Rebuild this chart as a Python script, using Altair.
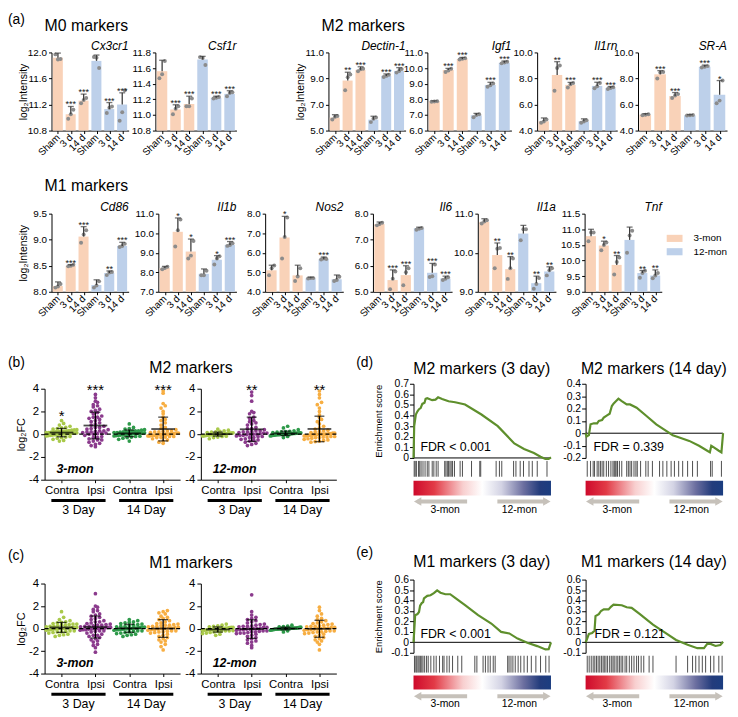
import math
import altair as alt
import pandas as pd

FONT = "Liberation Sans"
MARGIN = 8
W, H = 730, 709


def X(v):
    return v - MARGIN


def Y(v):
    return v - MARGIN


# ---------------------------------------------------------------- (a) data
CONDS = ["Sham", "3 d", "14 d", "Sham", "3 d", "14 d"]
AGES = ["3-mon", "3-mon", "3-mon", "12-mon", "12-mon", "12-mon"]
AGE_ORDER = ["3-mon", "12-mon"]
AGE_COLORS = ["#F9D2B8", "#BDD0EA"]

cx3cr1 = dict(mean=[11.92, 11.05, 11.26, 11.87, 11.13, 11.20],
              top=[11.99, 11.17, 11.36, 11.96, 11.23, 11.38],
              dots=[[11.97, 11.89, 11.90], [10.98, 11.05, 11.12], [11.22, 11.27, 11.30],
                    [11.93, 11.92, 11.76], [11.07, 11.15, 11.17], [10.95, 11.08, 11.42]],
              stars=["", "***", "***", "", "***", "***"])
csf1r = dict(mean=[11.56, 11.07, 11.14, 11.71, 11.22, 11.27],
             top=[11.70, 11.13, 11.24, 11.75, 11.24, 11.31],
             dots=[[11.47, 11.52, 11.69], [11.01, 11.08, 11.11], [11.11, 11.11, 11.21],
                   [11.74, 11.73, 11.64], [11.21, 11.22, 11.23], [11.24, 11.28, 11.29]],
             stars=["", "***", "***", "", "***", "***"])
dectin1 = dict(mean=[6.0, 8.84, 9.66, 5.84, 9.2, 9.58],
               top=[6.22, 9.48, 9.9, 6.1, 9.35, 9.83],
               dots=[[5.85, 6.05, 6.12], [8.1, 9.1, 9.3], [9.55, 9.7, 9.75],
                     [5.65, 5.9, 6.0], [9.12, 9.2, 9.28], [9.45, 9.58, 9.72]],
               stars=["", "**", "***", "", "***", "***"])
igf1 = dict(mean=[7.86, 9.88, 10.57, 6.98, 8.92, 10.34],
            top=[7.9, 9.98, 10.68, 7.1, 9.09, 10.45],
            dots=[[7.85, 7.86, 7.87], [9.75, 9.85, 9.95], [10.55, 10.6, 10.63],
                  [6.85, 7.0, 7.05], [8.8, 8.9, 9.02], [10.3, 10.35, 10.4]],
            stars=["", "***", "***", "", "***", "***"])
il1rn = dict(mean=[4.71, 8.27, 7.51, 4.71, 7.43, 7.26],
             top=[4.97, 9.29, 7.7, 4.9, 7.71, 7.38],
             dots=[[4.6, 4.7, 4.85], [7.05, 8.8, 9.0], [7.3, 7.55, 7.65],
                   [4.6, 4.7, 4.8], [7.25, 7.4, 7.65], [7.2, 7.27, 7.32]],
             stars=["", "**", "***", "", "***", "***"])
sra = dict(mean=[5.22, 8.32, 6.65, 5.17, 8.9, 6.75],
           top=[5.3, 8.6, 6.92, 5.22, 9.03, 7.84],
           dots=[[5.18, 5.22, 5.26], [8.0, 8.45, 8.5], [6.5, 6.7, 6.8],
                 [5.15, 5.17, 5.19], [8.85, 8.9, 8.95], [6.1, 6.3, 7.85]],
           stars=["", "***", "***", "", "***", "*"])
cd86 = dict(mean=[8.11, 8.5, 9.06, 8.13, 8.36, 8.88],
            top=[8.19, 8.52, 9.25, 8.23, 8.4, 8.95],
            dots=[[8.08, 8.1, 8.15], [8.49, 8.5, 8.52], [8.94, 9.1, 9.18],
                  [8.08, 8.12, 8.2], [8.32, 8.37, 8.38], [8.86, 8.88, 8.92]],
            stars=["", "***", "***", "", "**", "***"])
il1b = dict(mean=[8.22, 10.07, 9.06, 7.92, 8.64, 9.4],
            top=[8.3, 10.78, 9.7, 8.17, 8.85, 9.57],
            dots=[[8.15, 8.22, 8.28], [9.32, 10.15, 10.7], [8.7, 8.85, 9.6],
                  [7.85, 7.85, 8.08], [8.4, 8.7, 8.82], [9.35, 9.4, 9.48]],
            stars=["", "*", "*", "", "*", "***"])
nos2 = dict(mean=[5.1, 6.78, 4.84, 4.69, 5.67, 4.64],
            top=[5.36, 7.86, 5.36, 4.75, 5.78, 4.86],
            dots=[[4.85, 5.2, 5.35], [5.7, 6.8, 7.8], [4.55, 4.78, 5.2],
                  [4.68, 4.7, 4.7], [5.65, 5.7, 5.68], [4.55, 4.6, 4.77]],
            stars=["", "*", "", "", "***", ""])
il6 = dict(mean=[7.6, 5.45, 5.64, 7.44, 5.73, 5.51],
           top=[7.68, 5.84, 6.0, 7.48, 6.09, 5.6],
           dots=[[7.55, 7.6, 7.65], [5.1, 5.5, 5.78], [5.25, 5.75, 5.9],
                 [7.38, 7.42, 7.45], [5.57, 5.6, 6.05], [5.45, 5.5, 5.56]],
           stars=["", "***", "***", "", "***", "***"])
il1a = dict(mean=[10.79, 9.94, 9.58, 10.49, 9.22, 9.52],
            top=[10.87, 10.25, 9.9, 10.7, 9.4, 9.64],
            dots=[[10.75, 10.8, 10.83], [9.6, 10.1, 10.12], [9.33, 9.6, 9.85],
                  [10.32, 10.6, 10.6], [9.08, 9.2, 9.35], [9.42, 9.55, 9.6]],
            stars=["", "**", "**", "", "**", "**"])
tnf = dict(mean=[10.78, 10.48, 9.86, 10.66, 9.6, 9.52],
           top=[11.0, 10.62, 10.16, 11.07, 9.68, 9.7],
           dots=[[10.62, 10.9, 10.9], [10.33, 10.5, 10.58], [9.55, 9.95, 10.1],
                 [10.25, 10.8, 10.95], [9.45, 9.6, 9.67], [9.43, 9.52, 9.6]],
           stars=["", "*", "**", "", "**", "**"])

# ---------------------------------------------------------------- (b)/(c) data (log2FC per gene)
GROUP_KEYS = ["c3", "i3", "c14", "i14"]
GROUP_COLORS = ["#A9C94A", "#8B3B8D", "#2E9A4A", "#F7AE42"]
XCATS = ["Contra", "Ipsi", "Contra", "Ipsi"]

m2_3mon_contra3 = [1.2, 0.95, 0.8, 0.7, 0.6, 0.55, 0.5, 0.45, 0.4, 0.38, 0.35, 0.3, 0.28, 0.25, 0.22,
                   0.2, 0.18, 0.15, 0.12, 0.1, 0.08, 0.05, 0.03, 0.0, -0.02, -0.05, -0.08, -0.1, -0.12,
                   -0.15, -0.2, -0.25, -0.3, -0.35, -0.45, -0.55, -0.6, 0.1, 0.06, 0.02, 0.15, 0.25,
                   0.32, 0.0, -0.05]
m2_3mon_ipsi3 = [3.5, 3.2, 2.9, 2.8, 2.5, 2.4, 2.2, 2.1, 2.0, 1.9, 1.8, 1.6, 1.5, 1.4, 1.3, 1.2, 1.1,
                 1.0, 0.9, 0.8, 0.7, 0.6, 0.5, 0.45, 0.4, 0.3, 0.25, 0.2, 0.15, 0.1, 0.05, 0.0, -0.1,
                 -0.2, -0.3, -0.4, -0.5, -0.6, -0.7, -0.8, -0.9, -1.0, -1.1, 0.3, 0.6, 0.1, 1.5, 2.6,
                 -0.3, -0.5, 0.0, 0.2]
m2_3mon_contra14 = [0.9, 0.6, 0.5, 0.45, 0.4, 0.35, 0.3, 0.28, 0.25, 0.2, 0.18, 0.15, 0.12, 0.1, 0.08,
                    0.05, 0.03, 0.0, -0.02, -0.05, -0.08, -0.1, -0.12, -0.15, -0.18, -0.2, -0.25, -0.3,
                    -0.35, -0.45, -0.6, 0.1, 0.05, 0.0, 0.2, -0.05, 0.15, 0.3]
m2_3mon_ipsi14 = [3.8, 3.6, 2.7, 2.5, 2.3, 2.0, 1.8, 1.5, 1.3, 1.2, 1.0, 0.8, 0.6, 0.5, 0.4, 0.3, 0.25,
                  0.2, 0.15, 0.1, 0.08, 0.05, 0.02, 0.0, -0.02, -0.05, -0.08, -0.1, -0.15, -0.2, -0.3,
                  -0.4, -0.5, -0.6, -0.7, -0.8, 0.1, 0.0, -0.1, 0.05, 0.2, -0.3, 0.3, 0.0, -0.05, -0.2,
                  -0.25, -0.1, 0.0, -0.15]
m2_12mon_contra3 = [0.45, 0.35, 0.3, 0.25, 0.2, 0.18, 0.15, 0.12, 0.1, 0.08, 0.05, 0.03, 0.02, 0.0,
                    -0.01, -0.02, -0.04, -0.05, -0.07, -0.08, -0.1, -0.12, -0.14, -0.15, -0.18, -0.2,
                    -0.25, -0.3, -0.4, 0.05, 0.0, -0.05, 0.1, 0.0, 0.02, -0.03, 0.07]
m2_12mon_ipsi3 = [3.7, 3.4, 2.9, 2.0, 1.9, 1.8, 1.5, 1.4, 1.2, 1.1, 1.0, 0.9, 0.8, 0.6, 0.5, 0.4, 0.3,
                  0.25, 0.2, 0.15, 0.1, 0.05, 0.0, -0.05, -0.1, -0.15, -0.2, -0.3, -0.4, -0.45, -0.5,
                  -0.55, -0.6, -0.7, -0.8, -0.9, -1.0, 0.0, 0.2, -0.2, 0.1, -0.3, 0.5, 0.0, -0.1, 0.3]
m2_12mon_contra14 = [0.7, 0.55, 0.4, 0.3, 0.25, 0.22, 0.2, 0.18, 0.15, 0.12, 0.1, 0.08, 0.06, 0.05,
                     0.04, 0.02, 0.0, -0.01, -0.02, -0.04, -0.05, -0.07, -0.09, -0.1, -0.12, -0.15,
                     -0.2, -0.3, 0.05, 0.0, 0.1, 0.03, -0.03, 0.08, 0.12, 0.0]
m2_12mon_ipsi14 = [3.8, 3.5, 3.2, 2.8, 2.6, 2.3, 2.0, 1.7, 1.5, 1.3, 1.1, 0.9, 0.7, 0.55, 0.45, 0.35,
                   0.3, 0.25, 0.2, 0.15, 0.1, 0.05, 0.02, 0.0, -0.02, -0.05, -0.1, -0.15, -0.2, -0.25,
                   -0.3, -0.35, -0.4, -0.45, -0.5, -0.55, -0.6, -0.65, -0.7, 0.0, -0.1, 0.1, -0.2,
                   0.05, -0.3, 0.0, -0.05, -0.15, -0.25, -0.1, 0.0]

m1_3mon_contra3 = [1.5, 1.0, 0.8, 0.7, 0.6, 0.55, 0.5, 0.45, 0.4, 0.35, 0.3, 0.25, 0.2, 0.15, 0.1, 0.08,
                   0.05, 0.02, 0.0, -0.02, -0.05, -0.1, -0.15, -0.2, -0.25, -0.3, -0.35, -0.4, -0.5,
                   -0.55, -0.6, -0.7, 0.1, 0.0, -0.1, 0.2, 0.3, -0.2, 0.05, 0.0, 0.4, -0.3]
m1_3mon_ipsi3 = [3.1, 2.0, 1.9, 1.7, 1.6, 1.5, 1.3, 1.2, 1.1, 1.0, 0.9, 0.8, 0.7, 0.6, 0.5, 0.45, 0.4,
                 0.35, 0.3, 0.25, 0.2, 0.15, 0.1, 0.05, 0.0, -0.05, -0.1, -0.15, -0.2, -0.25, -0.3,
                 -0.4, -0.5, -0.6, -0.7, -0.8, -0.9, -1.0, -1.1, -1.2, -1.4, -1.5, -1.7, -2.1, 0.0,
                 0.1, -0.1, 0.2, -0.2, 0.3, 0.05, -0.05, 0.6, -0.6, 0.0]
m1_3mon_contra14 = [0.8, 0.7, 0.6, 0.55, 0.5, 0.45, 0.4, 0.35, 0.3, 0.25, 0.2, 0.15, 0.12, 0.1, 0.08,
                    0.05, 0.02, 0.0, -0.02, -0.05, -0.08, -0.1, -0.15, -0.2, -0.25, -0.3, -0.35, -0.4,
                    -0.45, -0.5, -0.55, -0.6, -0.7, 0.0, 0.1, -0.1, 0.2, -0.2, 0.05, -0.05]
m1_3mon_ipsi14 = [1.6, 1.5, 1.4, 1.3, 1.1, 1.0, 0.9, 0.8, 0.7, 0.6, 0.5, 0.45, 0.4, 0.35, 0.3, 0.25,
                  0.2, 0.15, 0.1, 0.05, 0.0, -0.05, -0.1, -0.15, -0.2, -0.25, -0.3, -0.35, -0.4, -0.5,
                  -0.6, -0.7, -0.8, -0.9, -1.0, -1.1, -1.2, -1.4, -1.6, -1.9, 0.0, 0.1, -0.1, 0.2,
                  -0.2, 0.3, -0.3, 0.05]
m1_12mon_contra3 = [0.4, 0.3, 0.25, 0.2, 0.15, 0.1, 0.08, 0.05, 0.02, 0.0, -0.02, -0.05, -0.08, -0.1,
                    -0.12, -0.15, -0.18, -0.2, -0.22, -0.25, -0.3, -0.35, -0.4, -0.45, -0.5, -0.6,
                    -0.1, 0.0, -0.05, -0.15, 0.1, -0.2, 0.05]
m1_12mon_ipsi3 = [3.0, 1.5, 1.2, 1.0, 0.9, 0.8, 0.7, 0.6, 0.5, 0.4, 0.35, 0.3, 0.25, 0.2, 0.15, 0.1,
                  0.05, 0.0, -0.05, -0.1, -0.15, -0.2, -0.25, -0.3, -0.35, -0.4, -0.45, -0.5, -0.6,
                  -0.7, -0.8, -0.9, -1.0, -1.1, -1.2, -1.3, -1.5, -1.7, 0.0, -0.1, 0.1, -0.2, -0.3,
                  0.2, -0.4, -0.05]
m1_12mon_contra14 = [0.3, 0.22, 0.18, 0.15, 0.12, 0.1, 0.08, 0.06, 0.05, 0.04, 0.03, 0.02, 0.01, 0.0,
                     -0.01, -0.02, -0.03, -0.04, -0.05, -0.06, -0.08, -0.1, -0.12, -0.15, -0.2, -0.3,
                     0.0, 0.02, -0.02, 0.05, -0.05]
m1_12mon_ipsi14 = [1.9, 1.6, 1.3, 1.1, 0.9, 0.8, 0.7, 0.6, 0.5, 0.45, 0.4, 0.35, 0.3, 0.25, 0.2, 0.15,
                   0.1, 0.05, 0.0, -0.05, -0.1, -0.15, -0.2, -0.25, -0.3, -0.35, -0.4, -0.45, -0.5,
                   -0.6, -0.7, -0.8, -0.9, -1.0, -1.1, -1.2, -1.4, -1.9, 0.0, 0.1, -0.1, 0.2, -0.2,
                   -0.3, 0.05]

# ---------------------------------------------------------------- (d)/(e) data (GSEA)
m2_3d_rank = [0, 0.5, 1.7, 2.9, 4.0, 5.2, 6.4, 8.0, 8.8, 10.0, 13.6, 16.0, 17.9, 20.8, 25.5, 30.3,
              37.5, 49.4, 61.3, 73.3, 80.4, 87.6, 92.4, 95.9, 98.3, 100]
m2_3d_es = [0, 0.30, 0.41, 0.44, 0.46, 0.47, 0.51, 0.52, 0.557, 0.563, 0.545, 0.55, 0.572, 0.557,
            0.535, 0.526, 0.504, 0.41, 0.30, 0.137, 0.084, 0.047, 0.012, -0.01, -0.01, 0.005]
m2_3d_hits = [0.5, 1.2, 2.1, 3.6, 4.5, 5.5, 6.9, 8.4, 10.0, 11.2, 13.6, 14.8, 16.5, 17.9, 22.7, 23.6,
              24.6, 25.5, 26.5, 27.4, 28.4, 29.8, 33.9, 35.6, 42.2, 48.2, 48.9, 60.1, 62.5, 64.2,
              72.8, 74.5, 77.6, 80.0, 84.0, 86.4, 90.0, 97.1]

m2_14d_rank = [0, 0.7, 2.4, 3.6, 6.0, 8.4, 9.6, 12.0, 13.2, 15.6, 17.5, 19.1, 20.3, 22.2, 23.9, 26.3,
               29.9, 32.3, 37.1, 44.3, 51.4, 58.6, 63.4, 68.2, 75.4, 82.5, 88.5, 90.4, 91.4, 93.3,
               96.9, 98.8, 100]
m2_14d_es = [0, -0.027, -0.016, 0.072, 0.08, 0.08, 0.1, 0.107, 0.126, 0.145, 0.158, 0.22, 0.239,
             0.26, 0.279, 0.26, 0.233, 0.233, 0.206, 0.139, 0.072, 0.019, -0.016, -0.035, -0.062,
             -0.102, -0.142, -0.155, -0.102, -0.115, -0.142, -0.155, 0.0]
m2_14d_hits = [1.2, 3.6, 5.5, 6.5, 8.4, 9.6, 10.8, 12.0, 13.2, 15.1, 16.7, 18.4, 19.9, 20.8, 21.5,
               22.2, 23.2, 24.6, 26.3, 29.9, 31.1, 32.3, 33.5, 35.2, 36.6, 37.6, 40.0, 43.8, 45.5,
               48.6, 53.8, 56.2, 59.1, 62.2, 64.6, 67.7, 70.6, 74.2, 77.8, 81.3, 90.9, 92.1, 98.8]

m1_3d_rank = [0, 0.7, 1.2, 2.9, 4.0, 4.8, 6.0, 7.0, 7.6, 10.0, 12.4, 14.8, 17.2, 19.6, 23.2, 26.7,
              30.3, 37.5, 47.0, 56.6, 63.7, 69.7, 75.7, 82.8, 90.0, 96.0, 98.3, 100]
m1_3d_es = [0, 0.15, 0.26, 0.27, 0.29, 0.35, 0.375, 0.385, 0.42, 0.445, 0.45, 0.47, 0.497, 0.475,
            0.46, 0.46, 0.425, 0.355, 0.26, 0.18, 0.10, 0.085, 0.036, -0.005, -0.036, -0.068,
            -0.065, 0.0]
m1_3d_hits = [0.7, 1.7, 2.4, 3.3, 4.1, 5.0, 6.0, 6.9, 8.1, 9.5, 10.7, 12.6, 14.8, 16.5, 18.9, 21.2,
              22.2, 24.3, 26.0, 28.4, 32.2, 35.1, 44.6, 46.1, 50.6, 52.3, 54.2, 55.8, 58.0, 59.4,
              68.5, 69.5, 70.9, 72.3, 74.0, 76.1, 78.0, 80.4, 82.8, 85.7, 89.0, 92.4, 96.2, 98.6]

m1_14d_rank = [0, 0.7, 2.4, 4.8, 6.5, 7.2, 9.6, 11.2, 13.2, 16.7, 18.4, 20.3, 26.3, 29.9, 33.5, 39.5,
               49.0, 58.6, 65.8, 74.2, 81.3, 86.1, 88.5, 90.9, 94.5, 98.0, 100]
m1_14d_es = [0, 0.02, 0.08, 0.09, 0.11, 0.25, 0.27, 0.30, 0.315, 0.315, 0.34, 0.36, 0.355, 0.335,
             0.33, 0.27, 0.17, 0.085, 0.023, -0.024, -0.056, -0.056, -0.015, -0.015, -0.035,
             -0.026, 0.005]
m1_14d_hits = [1.2, 2.6, 4.1, 5.5, 6.7, 7.9, 9.1, 10.3, 11.5, 12.7, 13.6, 14.8, 16.0, 17.5, 18.7,
               19.9, 20.8, 22.2, 23.4, 24.6, 25.8, 27.0, 28.7, 29.9, 31.8, 33.5, 35.2, 37.1, 38.5,
               40.4, 42.3, 46.2, 49.0, 65.8, 74.2, 77.8, 80.1, 82.5, 84.9, 87.3, 90.9, 93.3, 96.9,
               99.3]

# ---------------------------------------------------------------- styling
ERR = "#3C3C3C"
DOT = "#8C8C8C"
CURVE = "#5E8F2C"
ARROW = "#C6C1BA"
GRADIENT = alt.LinearGradient(
    gradient="linear", x1=0, x2=1, y1=0, y2=0,
    stops=[alt.GradientStop(color="#CE0A2B", offset=0),
           alt.GradientStop(color="#E23A46", offset=0.15),
           alt.GradientStop(color="#F8CFCF", offset=0.36),
           alt.GradientStop(color="#FFFFFF", offset=0.5),
           alt.GradientStop(color="#D3D3E4", offset=0.64),
           alt.GradientStop(color="#6C6FA0", offset=0.8),
           alt.GradientStop(color="#233C7C", offset=0.92),
           alt.GradientStop(color="#1B3D80", offset=1)])

LEG = alt.Legend(orient="none", legendX=X(677), legendY=Y(232), title=None,
                 symbolType="M-2,-0.9H2V0.9H-2Z", symbolSize=64, symbolStrokeWidth=0,
                 labelFontSize=10, labelOffset=14, rowPadding=3.5, padding=0,
                 labelFont=FONT, labelColor="black")


def lin(domain, rng):
    return alt.Scale(type="linear", domain=list(domain), range=list(rng), zero=False, nice=False)


def label(text, x, y, size, align="left", weight="normal", style="normal", baseline="middle"):
    return alt.Chart(pd.DataFrame({"t": [text]})).mark_text(
        align=align, baseline=baseline, fontSize=size, fontWeight=weight, fontStyle=style,
        color="black").encode(x=alt.value(X(x)), y=alt.value(Y(y)), text="t:N")


def minus_expr(fmt):
    return ("(datum.value < 0 ? '-' : '') + format(abs(datum.value), '%s')" % fmt)


# ---------------------------------------------------------------- (a) panels
ROW_Y = {1: (49, 128, 43), 2: (212, 291, 205)}


def bar_panel(name, g, ax_x, right_x, row, domain, ticks, ytitle_cx):
    top_y, bot_y, title_y = ROW_Y[row]
    xs = lin([0, 6], [X(ax_x), X(right_x)])
    ys = lin(domain, [Y(bot_y), Y(top_y)])
    df = pd.DataFrame({"i": list(range(6)), "cond": CONDS, "age": AGES,
                       "mean": g["mean"], "top": g["top"], "stars": g["stars"]})
    df["x0"] = df["i"] + 0.1
    df["x1"] = df["i"] + 0.88
    df["xc"] = df["i"] + 0.5
    df["base"] = domain[0]
    rows = []
    for i, reps in enumerate(g["dots"]):
        for r, v in enumerate(reps):
            rows.append({"x": i + 0.5 + (r - 1) * 0.2, "v": v})
    dots = pd.DataFrame(rows)

    label_expr = "[" + ",".join("'%s'" % c for c in CONDS) + "][floor(datum.value)]"
    xaxis = alt.Axis(orient="bottom", offset=Y(bot_y) - H, values=[i + 0.5 for i in range(6)],
                     labelExpr=label_expr, labelAngle=-45, labelAlign="right",
                     labelBaseline="middle", labelFontSize=10, tickSize=3, labelPadding=2,
                     title=None)
    ykw = dict(orient="left", offset=-X(ax_x), values=ticks, format=".1f", labelFontSize=10,
               tickSize=3, labelPadding=2)
    if ytitle_cx is not None:
        ykw.update(title="log₂Intensity", titleX=X(ytitle_cx) - X(ax_x),
                   titleBaseline="middle", titleFontSize=10.5, titleFontWeight="normal")
    else:
        ykw.update(title=None)
    yaxis = alt.Axis(**ykw)

    def xq(f):
        return alt.X(f, scale=xs, axis=None)

    def yq(f):
        return alt.Y(f, scale=ys, axis=None)

    base = alt.Chart(df)
    out = [
        base.mark_bar().encode(
            x=alt.X("x0:Q", scale=xs, axis=xaxis), x2="x1:Q",
            y=alt.Y("mean:Q", scale=ys, axis=yaxis), y2="base:Q",
            color=alt.Color("age:N", scale=alt.Scale(domain=AGE_ORDER, range=AGE_COLORS),
                            legend=LEG)),
        alt.Chart(dots).mark_circle(size=16, color=DOT, opacity=1).encode(
            x=xq("x:Q"), y=yq("v:Q")),
        base.mark_rule(color=ERR, strokeWidth=1.3).encode(
            x=xq("xc:Q"), y=yq("mean:Q"), y2="top:Q"),
        base.mark_tick(orient="horizontal", size=6, thickness=1.3, color=ERR).encode(
            x=xq("xc:Q"), y=yq("top:Q")),
        base.mark_text(fontSize=9, baseline="alphabetic", dy=1, color="#222222").encode(
            x=xq("xc:Q"), y=yq("top:Q"), text="stars:N"),
        alt.Chart(pd.DataFrame({"t": [name], "x": [6]})).mark_text(
            align="right", baseline="middle", fontSize=12, fontStyle="italic",
            color="black").encode(x=xq("x:Q"), y=alt.value(Y(title_y)), text="t:N"),
    ]
    return out


A_PANELS = [
    ("Cx3cr1", cx3cr1, 52, 130, 1, [10.8, 12.0], [10.8, 11.2, 11.6, 12.0], 24),
    ("Csf1r", csf1r, 157, 239, 1, [10.8, 11.8], [10.8, 11.0, 11.2, 11.4, 11.6, 11.8], None),
    ("Dectin-1", dectin1, 332, 410, 1, [5, 11], [5, 7, 9, 11], 304),
    ("Igf1", igf1, 432, 517, 1, [6, 11], [6, 7, 8, 9, 10, 11], None),
    ("Il1rn", il1rn, 543, 624, 1, [4, 10], [4, 6, 8, 10], None),
    ("SR-A", sra, 645, 735, 1, [4, 10], [4, 6, 8, 10], None),
    ("Cd86", cd86, 52, 130, 2, [8, 9.5], [8, 8.5, 9, 9.5], 24),
    ("Il1b", il1b, 160, 239, 2, [7, 11], [7, 8, 9, 10, 11], None),
    ("Nos2", nos2, 268, 347, 2, [4, 8], [4, 5, 6, 7, 8], None),
    ("Il6", il6, 377, 457, 2, [5, 8], [5, 6, 7, 8], None),
    ("Il1a", il1a, 483, 562, 2, [9, 11], [9, 10, 11], None),
    ("Tnf", tnf, 591, 669, 2, [9, 11.5], [9, 9.5, 10, 10.5, 11, 11.5], None),
]


# ---------------------------------------------------------------- (b)/(c) panels
def swarm(values, center, bin_w=0.3, step=0.125, max_half=0.45):
    bins = {}
    for v in sorted(values):
        bins.setdefault(int(math.floor(v / bin_w + 0.5)), []).append(v)
    out = []
    for vs in bins.values():
        k = len(vs)
        sp = min(step, 2 * max_half / max(k - 1, 1))
        for j, v in enumerate(vs):
            out.append((center + (j - (k - 1) / 2.0) * sp, v))
    return out


def scatter_panel(groups, ax_x, right_x, top_y, bot_y, stars, mon_label, under_y, day_y,
                  ytitle_cx=None):
    xs = lin([0.5, 4.5], [X(ax_x), X(right_x)])
    ys = lin([-4, 4], [Y(bot_y), Y(top_y)])
    pts_rows, raw_rows = [], []
    for gi, (key, vals) in enumerate(zip(GROUP_KEYS, groups), start=1):
        for x, v in swarm(vals, gi):
            pts_rows.append({"x": x, "v": v, "grp": key})
        for v in vals:
            raw_rows.append({"g": gi, "v": v})
    pts = pd.DataFrame(pts_rows)
    raw = pd.DataFrame(raw_rows)

    cat_expr = "[" + ",".join("'%s'" % c for c in XCATS) + "][datum.value - 1]"
    xaxis = alt.Axis(orient="bottom", offset=Y(bot_y) - H, values=[1, 2, 3, 4],
                     labelExpr=cat_expr, labelAngle=0, labelFontSize=11.5, tickSize=3,
                     labelPadding=2, title=None)
    ykw = dict(orient="left", offset=-X(ax_x), values=[-4, -2, 0, 2, 4],
               labelExpr=minus_expr("d"), labelFontSize=11.5, tickSize=4, labelPadding=2)
    if ytitle_cx is not None:
        ykw.update(title="log₂FC", titleX=X(ytitle_cx) - X(ax_x), titleBaseline="middle",
                   titleFontSize=11, titleFontWeight="normal")
    else:
        ykw.update(title=None)
    yaxis = alt.Axis(**ykw)

    def xq(f):
        return alt.X(f, scale=xs, axis=None)

    def yq(f):
        return alt.Y(f, scale=ys, axis=None)

    stats = alt.Chart(raw).transform_aggregate(
        m="mean(v)", s="stdev(v)", groupby=["g"]).transform_calculate(
        lo="datum.m - datum.s", hi="datum.m + datum.s")
    days = pd.DataFrame({"x0": [0.7, 2.7], "x1": [2.3, 4.3], "xc": [1.5, 3.5],
                         "lab": ["3 Day", "14 Day"]})
    st = pd.DataFrame({"x": [s[0] for s in stars], "y": [s[1] for s in stars],
                       "t": [s[2] for s in stars]})
    mon = pd.DataFrame({"x": [0.85], "y": [-3.05], "t": [mon_label]})
    zero = pd.DataFrame({"x0": [0.5], "x1": [4.5], "y": [0]})

    out = [
        alt.Chart(pts).mark_circle(size=14, opacity=1).encode(
            x=alt.X("x:Q", scale=xs, axis=xaxis), y=alt.Y("v:Q", scale=ys, axis=yaxis),
            fill=alt.Fill("grp:N", scale=alt.Scale(domain=GROUP_KEYS, range=GROUP_COLORS),
                          legend=None)),
        alt.Chart(zero).mark_rule(color="black", strokeDash=[4, 3], strokeWidth=1.2).encode(
            x=xq("x0:Q"), x2="x1:Q", y=yq("y:Q")),
        stats.mark_rule(color="black", strokeWidth=1.3).encode(
            x=xq("g:Q"), y=yq("lo:Q"), y2="hi:Q"),
        stats.mark_tick(orient="horizontal", size=24, thickness=1.8, color="black").encode(
            x=xq("g:Q"), y=yq("m:Q")),
        stats.transform_fold(["lo", "hi"], as_=["k", "val"]).mark_tick(
            orient="horizontal", size=10, thickness=1.3, color="black").encode(
            x=xq("g:Q"), y=yq("val:Q")),
        alt.Chart(days).mark_rule(color="black", strokeWidth=3).encode(
            x=xq("x0:Q"), x2="x1:Q", y=alt.value(Y(under_y))),
        alt.Chart(days).mark_text(fontSize=12.5, baseline="middle", color="black").encode(
            x=xq("xc:Q"), y=alt.value(Y(day_y)), text="lab:N"),
        alt.Chart(mon).mark_text(align="left", baseline="middle", fontSize=12.5,
                                 fontWeight="bold", fontStyle="italic", color="black").encode(
            x=xq("x:Q"), y=yq("y:Q"), text="t:N"),
    ]
    if len(stars):
        out.append(alt.Chart(st).mark_text(fontSize=15, baseline="alphabetic", dy=8,
                                           color="black").encode(
            x=xq("x:Q"), y=yq("y:Q"), text="t:N"))
    return out


# ---------------------------------------------------------------- (d)/(e) panels
def gsea_panel(rank, es, hits, ax_x, right_x, top_y, bot_y, domain, ticks, fdr, fdr_x, fdr_y,
               strip, ytitle_cx=None):
    hit0, hit1, bar0, bar1, arrow_y, lab_y = strip
    xs = lin([0, 100], [X(ax_x), X(right_x)])
    ys = lin(domain, [Y(bot_y), Y(top_y)])
    ykw = dict(orient="left", offset=-X(ax_x), values=ticks,
               labelExpr="datum.value == 0 ? '0' : " + minus_expr(".1f"),
               labelFontSize=10.5, tickSize=4, labelPadding=1)
    if ytitle_cx is not None:
        ykw.update(title="Enrichment score", titleX=X(ytitle_cx) - X(ax_x),
                   titleBaseline="middle", titleFontSize=9.5, titleFontWeight="normal")
    else:
        ykw.update(title=None)
    yaxis = alt.Axis(**ykw)

    def xq(f):
        return alt.X(f, scale=xs, axis=None)

    def yq(f):
        return alt.Y(f, scale=ys, axis=None)

    curve = pd.DataFrame({"r": rank, "es": es})
    hit_df = pd.DataFrame({"h": hits})
    span = pd.DataFrame({"x0": [0], "x1": [100], "y": [0]})
    arrows = pd.DataFrame({"x0": [3, 61], "x1": [39, 97], "tip": [3, 97], "xc": [23, 77],
                           "shape": ["triangle-left", "triangle-right"],
                           "lab": ["3-mon", "12-mon"]})
    fdr_df = pd.DataFrame({"x": [fdr_x], "y": [fdr_y], "t": [fdr]})
    return [
        alt.Chart(span).mark_rule(color="black", strokeWidth=1).encode(
            x=xq("x0:Q"), x2="x1:Q", y=yq("y:Q")),
        alt.Chart(curve).mark_line(color=CURVE, strokeWidth=2.2).encode(
            x=xq("r:Q"), y=alt.Y("es:Q", scale=ys, axis=yaxis)),
        alt.Chart(hit_df).mark_rule(color="#3A3A3A", strokeWidth=0.9).encode(
            x=xq("h:Q"), y=alt.value(Y(hit0)), y2=alt.value(Y(hit1))),
        alt.Chart(span).mark_rect(color=GRADIENT).encode(
            x=xq("x0:Q"), x2="x1:Q", y=alt.value(Y(bar0)), y2=alt.value(Y(bar1))),
        alt.Chart(arrows).mark_rule(color=ARROW, strokeWidth=4).encode(
            x=xq("x0:Q"), x2="x1:Q", y=alt.value(Y(arrow_y))),
        alt.Chart(arrows).mark_point(filled=True, size=75, color=ARROW, opacity=1).encode(
            x=xq("tip:Q"), y=alt.value(Y(arrow_y)), shape=alt.Shape("shape:N", scale=None)),
        alt.Chart(arrows).mark_text(fontSize=10.5, baseline="middle", color="black").encode(
            x=xq("xc:Q"), y=alt.value(Y(lab_y)), text="lab:N"),
        alt.Chart(fdr_df).mark_text(align="left", baseline="middle", fontSize=12.5,
                                    color="black").encode(
            x=xq("x:Q"), y=yq("y:Q"), text="t:N"),
    ]


# ---------------------------------------------------------------- assemble
layers = []
for spec in A_PANELS:
    layers += bar_panel(*spec)

layers += scatter_panel([m2_3mon_contra3, m2_3mon_ipsi3, m2_3mon_contra14, m2_3mon_ipsi14],
                        45, 182, 389, 481,
                        [(1, 1.9, "*"), (2, 4.15, "***"), (4, 4.15, "***")],
                        "3-mon", 502, 512, ytitle_cx=22)
layers += scatter_panel([m2_12mon_contra3, m2_12mon_ipsi3, m2_12mon_contra14, m2_12mon_ipsi14],
                        203, 340, 389, 481,
                        [(2, 4.15, "**"), (4, 4.15, "**")],
                        "12-mon", 502, 512)
layers += scatter_panel([m1_3mon_contra3, m1_3mon_ipsi3, m1_3mon_contra14, m1_3mon_ipsi14],
                        45, 182, 586, 677, [], "3-mon", 698, 708, ytitle_cx=22)
layers += scatter_panel([m1_12mon_contra3, m1_12mon_ipsi3, m1_12mon_contra14, m1_12mon_ipsi14],
                        203, 340, 586, 677, [], "12-mon", 698, 708)

D_STRIP = (462, 478, 482, 497, 503, 512)
E_STRIP = (659, 676, 679, 693, 700, 708)
ES_TICKS_D1 = [0, 0.1, 0.2, 0.3, 0.4, 0.5, 0.6, 0.7]
ES_TICKS_D2 = [-0.2, -0.1, 0, 0.1, 0.2, 0.3, 0.4]
ES_TICKS_E = [-0.1, 0, 0.1, 0.2, 0.3, 0.4, 0.5, 0.6]
layers += gsea_panel(m2_3d_rank, m2_3d_es, m2_3d_hits, 418, 557, 384, 459, [0, 0.7],
                     ES_TICKS_D1, "FDR < 0.001", 5, 0.103, D_STRIP, ytitle_cx=383)
layers += gsea_panel(m2_14d_rank, m2_14d_es, m2_14d_hits, 592, 731, 384, 459, [-0.2, 0.4],
                     ES_TICKS_D2, "FDR = 0.339", 5.8, -0.112, D_STRIP)
layers += gsea_panel(m1_3d_rank, m1_3d_es, m1_3d_hits, 418, 557, 582, 656, [-0.1, 0.6],
                     ES_TICKS_E, "FDR < 0.001", 5, 0.076, E_STRIP, ytitle_cx=383)
layers += gsea_panel(m1_14d_rank, m1_14d_es, m1_14d_hits, 592, 731, 582, 656, [-0.1, 0.6],
                     ES_TICKS_E, "FDR = 0.121", 6.5, 0.076, E_STRIP)

# text labels
layers += [
    label("(a)", 8, 16, 14),
    label("M0 markers", 45, 22, 16),
    label("M2 markers", 325, 22, 16),
    label("M1 markers", 45, 184, 16),
    label("(b)", 8, 363, 14),
    label("M2 markers", 193, 368, 16, align="center"),
    label("(c)", 8, 558, 14),
    label("M1 markers", 193, 565, 16, align="center"),
    label("(d)", 360, 363, 14),
    label("M2 markers (3 day)", 487, 369, 16, align="center"),
    label("M2 markers (14 day)", 661, 369, 16, align="center"),
    label("(e)", 360, 555, 14),
    label("M1 markers (3 day)", 487, 564, 16, align="center"),
    label("M1 markers (14 day)", 661, 564, 16, align="center"),
]

chart = alt.layer(*layers).resolve_scale(
    x="independent", y="independent"
).properties(
    width=W, height=H, padding=0, background="white",
    autosize=alt.AutoSizeParams(type="none"),
).configure(font=FONT).configure_view(stroke=None).configure_axis(
    domainColor="black", tickColor="black", labelColor="black", titleColor="black",
    grid=False, domainWidth=1, tickWidth=1, labelFont=FONT, titleFont=FONT,
    labelOverlap=False, labelFlush=False,
)

chart.save("out.html", embed_options={"renderer": "svg", "actions": False})
